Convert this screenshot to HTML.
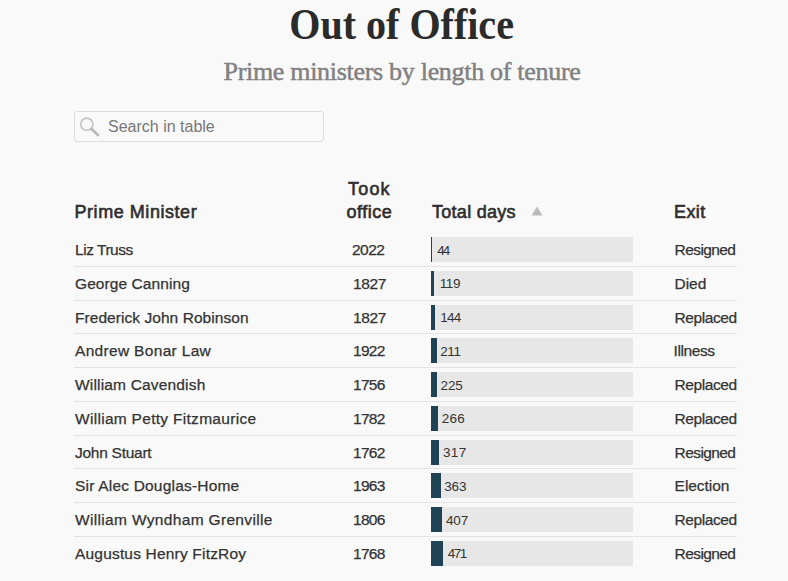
<!DOCTYPE html>
<html><head><meta charset="utf-8"><style>
*{margin:0;padding:0;box-sizing:border-box}
html,body{width:788px;height:581px;overflow:hidden;background:#f9f9f9}
body{position:relative;font-family:"Liberation Sans",sans-serif;color:#333}
h1{position:absolute;left:0;width:803px;top:-0.8px;text-align:center;font-family:"Liberation Serif",serif;font-weight:bold;font-size:44.5px;letter-spacing:0px;color:#2b2b2b;line-height:50px;transform:scaleX(0.9);transform-origin:402.5px 0}
h2{position:absolute;left:0;width:804px;top:55px;text-align:center;font-family:"Liberation Serif",serif;font-weight:normal;font-size:26px;letter-spacing:-0.3px;color:#818181;-webkit-text-stroke:0.5px #818181;line-height:34px}
.search{position:absolute;left:74px;top:111px;width:250px;height:31px;border:1px solid #ddd;border-radius:3px;background:#f9f9f9}
.search span{position:absolute;left:33px;top:0;line-height:29px;font-size:16px;color:#777}
.search svg{position:absolute;left:4px;top:4px}
.hd{position:absolute;font-weight:normal;font-size:18px;line-height:23px;color:#2e2e2e;-webkit-text-stroke:0.6px #2e2e2e;white-space:nowrap}
.row{position:absolute;left:74px;width:663px;height:33.75px;border-bottom:1px solid #e3e3e3}
.row.last{border-bottom:none}
.c{position:absolute;top:0.0px;line-height:33.75px;font-size:15.5px;white-space:nowrap;color:#333;-webkit-text-stroke:0.25px #333}
.yr{text-align:right}
.track{position:absolute;left:357px;top:4px;width:202px;height:25px;background:#e7e7e7}
.bar{position:absolute;left:0;top:0;height:25px;background:#1f4254}
.num{position:absolute;top:0.5px;line-height:25px;font-size:13.5px;color:#333}
</style></head><body>
<h1>Out of Office</h1>
<h2>Prime ministers by length of tenure</h2>
<div class="search"><svg width="26" height="24" viewBox="0 0 26 24"><circle cx="7.8" cy="8.2" r="6.1" fill="none" stroke="#c2c2c2" stroke-width="1.6"/><line x1="12.4" y1="12.9" x2="19" y2="19" stroke="#bbb" stroke-width="2.8" stroke-linecap="round"/></svg><span>Search in table</span></div>
<div class="hd" style="left:74.5px;top:201px;letter-spacing:0.55px">Prime Minister</div>
<div class="hd" style="left:348px;top:178px;letter-spacing:1.2px">Took</div>
<div class="hd" style="left:346.5px;top:201px;letter-spacing:0.5px">office</div>
<div class="hd" style="left:432px;top:201px;letter-spacing:0.28px">Total days</div>
<svg style="position:absolute;left:531px;top:206px" width="12" height="10" viewBox="0 0 12 10"><polygon points="6,0.5 11.5,9.5 0.5,9.5" fill="#bbb"/></svg>
<div class="hd" style="left:674px;top:201px;letter-spacing:0.4px">Exit</div>

<div class="row" style="top:233.00px"><div class="c" style="left:1.00px;letter-spacing:-0.462px">Liz Truss</div><div class="c yr" style="right:352.60px;letter-spacing:-0.500px">2022</div><div class="track"><div class="bar" style="width:1.17px"></div><div class="num" style="left:6.17px;letter-spacing:-2px">44</div></div><div class="c" style="left:600.60px;letter-spacing:-0.586px">Resigned</div></div>
<div class="row" style="top:266.75px"><div class="c" style="left:1.00px;letter-spacing:0.077px">George Canning</div><div class="c yr" style="right:351.10px;letter-spacing:-0.400px">1827</div><div class="track"><div class="bar" style="width:3.16px"></div><div class="num" style="left:8.66px;letter-spacing:-0.35px">119</div></div><div class="c" style="left:600.60px;letter-spacing:-0.067px">Died</div></div>
<div class="row" style="top:300.50px"><div class="c" style="left:1.00px;letter-spacing:0.055px">Frederick John Robinson</div><div class="c yr" style="right:351.10px;letter-spacing:-0.400px">1827</div><div class="track"><div class="bar" style="width:3.82px"></div><div class="num" style="left:9.22px;letter-spacing:-0.8px">144</div></div><div class="c" style="left:600.60px;letter-spacing:-0.429px">Replaced</div></div>
<div class="row" style="top:334.25px"><div class="c" style="left:1.00px;letter-spacing:0.320px">Andrew Bonar Law</div><div class="c yr" style="right:352.43px;letter-spacing:-0.733px">1922</div><div class="track"><div class="bar" style="width:5.59px"></div><div class="num" style="left:9.29px;letter-spacing:-0.45px">211</div></div><div class="c" style="left:599.60px;letter-spacing:-0.417px">Illness</div></div>
<div class="row" style="top:368.00px"><div class="c" style="left:1.00px;letter-spacing:0.175px">William Cavendish</div><div class="c yr" style="right:352.43px;letter-spacing:-0.733px">1756</div><div class="track"><div class="bar" style="width:5.97px"></div><div class="num" style="left:9.57px;letter-spacing:-0.15px">225</div></div><div class="c" style="left:600.60px;letter-spacing:-0.429px">Replaced</div></div>
<div class="row" style="top:401.75px"><div class="c" style="left:1.00px;letter-spacing:0.296px">William Petty Fitzmaurice</div><div class="c yr" style="right:352.43px;letter-spacing:-0.733px">1782</div><div class="track"><div class="bar" style="width:7.05px"></div><div class="num" style="left:10.65px;letter-spacing:0.3px">266</div></div><div class="c" style="left:600.60px;letter-spacing:-0.429px">Replaced</div></div>
<div class="row" style="top:435.50px"><div class="c" style="left:1.00px;letter-spacing:-0.260px">John Stuart</div><div class="c yr" style="right:352.43px;letter-spacing:-0.733px">1762</div><div class="track"><div class="bar" style="width:8.40px"></div><div class="num" style="left:12.00px;letter-spacing:0.35px">317</div></div><div class="c" style="left:600.60px;letter-spacing:-0.586px">Resigned</div></div>
<div class="row" style="top:469.25px"><div class="c" style="left:1.00px;letter-spacing:0.200px">Sir Alec Douglas-Home</div><div class="c yr" style="right:352.43px;letter-spacing:-0.733px">1963</div><div class="track"><div class="bar" style="width:9.62px"></div><div class="num" style="left:13.22px;letter-spacing:-0.15px">363</div></div><div class="c" style="left:600.60px;letter-spacing:-0.057px">Election</div></div>
<div class="row" style="top:503.00px"><div class="c" style="left:1.00px;letter-spacing:0.333px">William Wyndham Grenville</div><div class="c yr" style="right:352.43px;letter-spacing:-0.733px">1806</div><div class="track"><div class="bar" style="width:10.79px"></div><div class="num" style="left:14.99px;letter-spacing:-0.15px">407</div></div><div class="c" style="left:600.60px;letter-spacing:-0.429px">Replaced</div></div>
<div class="row last" style="top:536.75px"><div class="c" style="left:1.00px;letter-spacing:0.186px">Augustus Henry FitzRoy</div><div class="c yr" style="right:352.43px;letter-spacing:-0.733px">1768</div><div class="track"><div class="bar" style="width:12.49px"></div><div class="num" style="left:16.69px;letter-spacing:-1.45px">471</div></div><div class="c" style="left:600.60px;letter-spacing:-0.586px">Resigned</div></div>
</body></html>
